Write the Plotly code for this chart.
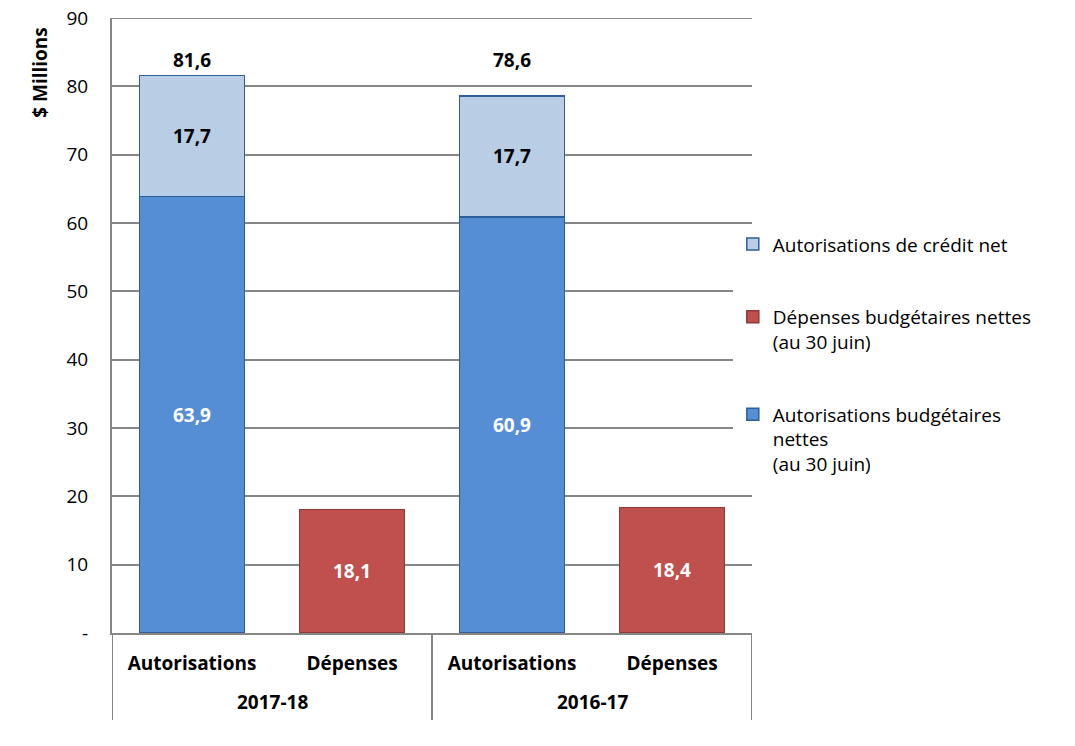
import plotly.graph_objects as go

groups = ["2017-18", "2016-17"]
cats = ["Autorisations", "Dépenses", "Autorisations", "Dépenses"]
auth_budget = [63.9, None, 60.9, None]
depenses = [None, 18.1, None, 18.4]
credit_net = [17.7, None, 17.7, None]
totals = [81.6, None, 78.6, None]

tick_vals = [0, 10, 20, 30, 40, 50, 60, 70, 80, 90]
tick_text = ["-", "10", "20", "30", "40", "50", "60", "70", "80", "90"]

FONT = "Open Sans"
FS = 19
GRID = "#868686"
xpos = list(range(len(cats)))

fig = go.Figure()
fig.add_trace(go.Bar(
    x=xpos, y=auth_budget, name="Autorisations budgétaires<br>nettes<br>(au 30 juin)",
    marker=dict(color="#558ED5", line=dict(color="#2F5F98", width=1.5)),
    texttemplate="<b>%{y:.1f}</b>", textposition="inside", insidetextanchor="middle",
    textfont=dict(color="white", size=FS, family=FONT), legendgroup="a", legendrank=3,
))
fig.add_trace(go.Bar(
    x=xpos, y=depenses, name="Dépenses budgétaires nettes<br>(au 30 juin)",
    marker=dict(color="#C0504D", line=dict(color="#8C3836", width=1.5)),
    texttemplate="<b>%{y:.1f}</b>", textposition="inside", insidetextanchor="middle",
    textfont=dict(color="white", size=FS, family=FONT), legendgroup="b", legendrank=2,
))
fig.add_trace(go.Bar(
    x=xpos, y=credit_net, name="Autorisations de crédit net",
    marker=dict(color="#B9CDE5", line=dict(color="#2F5F98", width=1.5)),
    texttemplate="<b>%{y:.1f}</b>", textposition="inside", insidetextanchor="middle",
    textfont=dict(color="black", size=FS, family=FONT), legendgroup="c", legendrank=1,
))

# totals above stacked bars (placed on a common line above the tallest bar)
label_y = max(t for t in totals if t is not None)
for xi, t in zip(xpos, totals):
    if t is not None:
        fig.add_annotation(x=xi, y=label_y, xref="x", yref="y",
                           text=f"<b>{t:.1f}</b>".replace(".", ","),
                           showarrow=False, yanchor="middle", yshift=15,
                           font=dict(size=FS, family=FONT, color="black"))

# group labels and dividers
n_per_group = len(cats) // len(groups)
for gi, g in enumerate(groups):
    center = gi * n_per_group + (n_per_group - 1) / 2
    fig.add_annotation(x=center, y=-0.113, xref="x", yref="paper", text=f"<b>{g}</b>",
                       showarrow=False, yanchor="middle",
                       font=dict(size=FS, family=FONT, color="black"))
for b in range(len(groups) + 1):
    edge = b * n_per_group - 0.5
    fig.add_shape(type="line", xref="x", yref="paper", x0=edge, x1=edge, y0=0, y1=-0.1415,
                  line=dict(color=GRID, width=2))

# top gridline at the axis maximum
fig.add_shape(type="line", xref="paper", yref="y", x0=0, x1=1, y0=tick_vals[-1], y1=tick_vals[-1],
              line=dict(color=GRID, width=2), layer="below")

# y axis title
fig.add_annotation(x=-0.113, y=0.912, xref="paper", yref="paper", text="<b>$ Millions</b>",
                   textangle=-90, showarrow=False, xanchor="center", yanchor="middle",
                   font=dict(size=FS, family=FONT, color="black"))

fig.update_layout(
    width=1075, height=746,
    margin=dict(l=112, r=323, t=18, b=113),
    barmode="stack", bargap=0.344,
    separators=", ",
    plot_bgcolor="white", paper_bgcolor="white",
    font=dict(family=FONT, size=FS, color="black"),
    showlegend=True,
    legend=dict(x=0.970, y=0.663, xanchor="left", yanchor="top", valign="top",
                traceorder="grouped", tracegroupgap=45,
                font=dict(size=FS, family=FONT), itemwidth=30),
)
fig.update_xaxes(
    range=[-0.5, len(cats) - 0.5], tickvals=xpos, ticktext=[f"<b>{c}</b>" for c in cats],
    showline=True, linecolor=GRID, linewidth=2, showgrid=False, zeroline=False,
    tickfont=dict(size=FS, family=FONT), ticks="", ticklabelstandoff=12, automargin=False,
)
fig.update_yaxes(
    range=[0, 90], tickvals=tick_vals, ticktext=tick_text,
    showgrid=True, gridcolor=GRID, gridwidth=2,
    showline=True, linecolor=GRID, linewidth=2,
    tickfont=dict(size=FS, family=FONT), ticks="", zeroline=False,
    ticklabelstandoff=18, automargin=False,
)
fig.write_html("out.html", config={"displayModeBar": False},
               post_script="document.body.style.margin='0';")
